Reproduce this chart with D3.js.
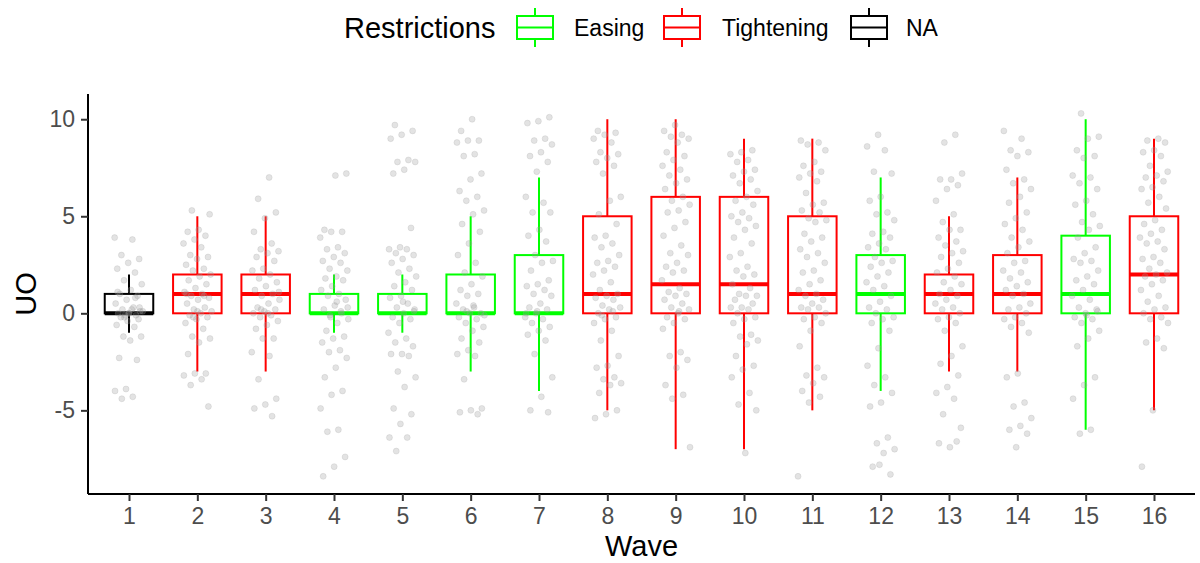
<!DOCTYPE html>
<meta charset="utf-8">
<title>UO by Wave</title>
<style>
body { margin: 0; background: #fff; font-family: 'Liberation Sans', Arial, sans-serif; }
</style>
<body>
<script src="https://d3js.org/d3.v7.min.js"></script>
<script>
// waves and the restriction type of each
var waves = ["1","2","3","4","5","6","7","8","9","10","11","12","13","14","15","16"];
var restriction = ["NA","Tightening","Tightening","Easing","Easing","Easing","Easing","Tightening",
                   "Tightening","Tightening","Tightening","Easing","Tightening","Tightening","Easing","Tightening"];

// box statistics
var whiskerLow  = [-1,-3,-3,-1,-1,-3,-4,-5,-7,-7,-5,-4,-3,-3,-6,-5];
var q1          = [ 0, 0, 0, 0, 0, 0, 0, 0, 0, 0, 0, 0, 0, 0, 0, 0];
var median      = [ 0, 1, 1, 0, 0, 0, 0, 1,1.5,1.5,1, 1, 1, 1, 1, 2];
var q3          = [ 1, 2, 2, 1, 1, 2, 3, 5, 6, 6, 5, 3, 2, 3, 4, 5];
var whiskerHigh = [ 2, 5, 5, 2, 2, 5, 7,10,10, 9, 9, 7, 5, 7,10, 9];

// jittered responses (approximate), one array per wave
var pts1  = [3.9,3.8,3.0,2.8,2.6,2.3,2.1,1.7,1.5,1.2,1.0,0.9,0.7,0.5,0.3,0.2,0.1,0.0,0.0,-0.1,-0.1,0.1,0.2,-0.2,-0.3,-0.4,-0.6,-0.7,-1.2,-1.2,-1.4,-2.3,-2.4,-3.9,-4.0,-4.3,-4.4,0.3,0.0,1.1,0.8,-0.2];
var pts2  = [5.3,5.1,4.3,4.2,4.0,3.8,3.6,3.4,3.0,2.9,2.8,2.5,2.3,2.2,2.0,1.9,1.7,1.5,1.3,1.1,1.0,0.9,0.8,0.7,0.5,0.3,0.2,0.1,0.0,-0.1,-0.2,-0.3,-0.5,-0.8,-1.2,-1.3,-1.5,-2.1,-3.1,-3.1,-3.2,-3.4,-3.7,-4.8,0.1,1.0,0.9,-0.2];
var pts3  = [7.0,5.9,5.2,4.9,4.2,3.6,3.3,3.2,3.1,2.9,2.7,2.3,2.2,2.0,1.8,1.6,1.4,1.2,1.0,0.9,0.7,0.5,0.3,0.2,0.1,0.0,-0.1,-0.2,-0.4,-0.6,-0.8,-1.3,-1.3,-2.0,-2.2,-3.4,-4.4,-4.7,-4.9,-5.3,0.2,1.1,0.0];
var pts4  = [7.2,7.1,4.3,4.2,4.2,3.9,3.4,3.3,3.1,2.9,2.7,2.6,2.3,2.2,1.9,1.8,1.7,1.4,1.2,1.0,0.9,0.7,0.4,0.2,0.0,-0.2,-0.3,-0.5,-0.9,-1.2,-1.3,-1.5,-1.9,-2.0,-2.3,-2.8,-3.3,-4.0,-4.2,-4.9,-6.0,-6.1,-7.4,-7.9,-8.4,0.1,-0.1,0.3,0.6];
var pts5  = [9.7,9.4,9.2,9.0,7.9,7.8,7.8,7.4,7.2,4.4,3.4,3.3,3.3,3.1,3.0,2.8,2.6,2.3,2.1,1.9,1.6,1.4,1.2,0.9,0.8,0.5,0.3,0.2,0.0,-0.2,-0.3,-0.5,-1.0,-1.3,-1.5,-1.7,-2.1,-2.1,-2.2,-3.0,-3.3,-3.8,-4.9,-5.2,-5.7,-6.4,-6.4,-7.1,0.1,0.6];
var pts6  = [10.0,9.4,8.9,8.9,8.8,8.2,8.1,7.2,6.9,6.3,6.0,5.8,5.3,5.1,4.6,4.2,3.6,3.0,2.6,2.1,1.9,1.5,1.2,1.0,0.9,0.5,0.3,0.2,0.0,0.0,-0.2,-0.3,-0.5,-0.7,-0.9,-1.3,-1.5,-1.9,-2.1,-2.2,-3.4,-4.9,-5.0,-5.1,-5.2,0.1,-0.1,0.4];
var pts7  = [10.1,9.9,9.8,9.0,8.9,8.7,8.3,8.1,7.8,7.3,6.0,5.7,5.2,5.2,4.3,4.0,3.7,3.0,2.7,2.6,2.2,1.7,1.5,1.4,1.2,1.0,0.9,0.5,0.3,0.2,0.0,-0.2,-0.3,-0.5,-0.7,-0.9,-1.1,-1.4,-2.1,-3.3,-4.3,-5.0,-5.1,0.1,0.0];
var pts8  = [9.4,9.3,9.2,9.0,8.8,8.3,8.2,8.0,7.8,7.6,7.2,6.0,5.8,5.1,4.6,4.0,3.9,3.6,3.4,3.0,2.7,2.6,2.4,2.2,2.0,1.6,1.2,1.0,0.9,0.8,0.7,0.4,0.3,0.2,0.0,-0.2,-0.3,-0.5,-0.9,-1.4,-2.2,-2.7,-2.8,-3.3,-3.4,-3.6,-3.7,-4.1,-5.0,-5.2,-5.4,0.1,-0.1];
var pts9  = [9.7,9.4,9.2,9.1,9.0,8.8,8.3,8.1,7.9,7.6,7.4,7.1,6.9,6.7,6.4,6.0,5.8,5.6,5.3,5.2,4.7,4.4,4.0,3.5,3.1,3.0,2.6,2.4,2.2,2.1,1.7,1.3,1.1,1.0,0.9,0.7,0.5,0.3,0.2,0.0,-0.2,-0.3,-0.5,-0.8,-2.0,-2.2,-2.4,-2.8,-3.7,-4.2,-4.4,-6.9,0.1];
var pts10 = [8.4,8.3,8.2,7.9,7.8,7.4,7.3,7.1,6.9,6.7,6.3,6.0,5.8,5.6,5.2,5.0,4.9,4.7,4.5,4.3,3.9,3.6,3.1,2.9,2.4,2.2,2.0,1.9,1.5,1.3,1.0,0.9,0.9,0.7,0.5,0.3,0.3,0.2,0.0,-0.2,-0.3,-0.5,-1.1,-1.2,-1.4,-1.6,-2.2,-2.7,-2.9,-3.3,-4.1,-4.7,-5.0,-7.2];
var pts11 = [8.9,8.8,8.7,8.4,7.8,7.6,7.3,7.2,7.0,6.8,6.2,5.7,5.6,5.3,5.2,4.9,4.8,4.7,4.1,3.9,3.7,3.3,3.1,2.9,2.6,2.2,2.1,1.7,1.5,1.2,1.0,0.9,0.7,0.5,0.3,0.3,0.2,0.0,-0.2,-0.3,-0.5,-0.9,-1.7,-2.8,-3.2,-3.3,-3.6,-4.0,-4.3,-4.6,-8.4];
var pts12 = [9.2,8.6,8.4,7.3,7.2,6.0,5.8,5.2,5.1,4.8,4.2,4.1,3.9,3.6,3.4,3.3,2.9,2.7,2.6,2.4,2.1,1.9,1.6,1.4,1.2,0.9,0.6,0.3,0.2,0.0,-0.2,-0.3,-0.5,-0.9,-1.8,-2.7,-3.3,-3.7,-4.1,-4.6,-4.8,-6.4,-6.7,-7.0,-7.2,-7.9,-8.3,-7.8];
var pts13 = [9.2,8.8,7.2,6.9,6.9,6.6,6.4,5.8,5.1,4.7,4.3,4.3,3.9,3.7,3.5,3.2,3.1,2.9,2.6,2.3,2.1,1.9,1.6,1.5,1.2,1.0,0.9,0.7,0.5,0.3,0.2,0.0,-0.2,-0.3,-0.5,-0.9,-1.7,-2.2,-2.6,-3.2,-3.8,-4.1,-4.4,-5.2,-5.9,-6.9,-6.7,-6.6];
var pts14 = [9.4,9.0,8.4,8.3,8.1,7.4,6.9,6.7,6.4,6.0,5.7,5.2,4.9,4.6,4.3,3.9,3.7,3.4,3.1,2.7,2.6,2.2,2.1,1.8,1.6,1.4,1.2,1.0,0.9,0.5,0.3,0.2,0.0,-0.2,-0.3,-0.5,-0.7,-1.0,-3.1,-3.3,-4.6,-4.8,-5.4,-5.8,-6.0,-6.2,-6.9];
var pts15 = [10.3,9.1,9.0,8.4,8.1,8.0,7.1,7.0,6.7,6.4,5.8,5.6,5.1,4.7,4.5,4.3,3.9,3.4,3.1,2.8,2.7,2.6,2.2,1.9,1.7,1.5,1.2,0.9,0.7,0.3,0.2,0.0,-0.2,-0.3,-0.5,-0.9,-1.3,-1.7,-3.3,-3.7,-4.4,-6.0,-6.2,0.1,-0.1];
var pts16 = [9.0,8.9,8.8,8.4,8.3,8.1,7.6,7.3,7.1,7.0,6.8,6.5,6.4,6.0,5.7,5.4,4.8,4.6,4.3,4.1,3.9,3.7,3.6,3.3,2.9,2.8,2.6,2.3,2.1,2.0,1.9,1.7,1.5,1.2,0.9,0.6,0.3,0.2,0.0,-0.2,-0.3,-0.5,-1.3,-1.5,-1.8,-5.0,-7.9];
var points = [pts1,pts2,pts3,pts4,pts5,pts6,pts7,pts8,pts9,pts10,pts11,pts12,pts13,pts14,pts15,pts16];

var yTicks = [-5, 0, 5, 10];
var legendItems = ["Easing", "Tightening", "NA"];

var width = 1200, height = 563;
var margin = {top: 94, right: 5, bottom: 69, left: 88};

var colour = d3.scaleOrdinal()
    .domain(["Easing", "Tightening", "NA"])
    .range(["#00ff00", "#ff0000", "#000000"]);

var svg = d3.select("body").append("svg")
    .attr("width", width)
    .attr("height", height);

var x = d3.scalePoint()
    .domain(waves)
    .range([margin.left, width - margin.right])
    .padding(0.6);
var step = x.step();

var y = d3.scaleLinear()
    .domain([-9.31, 11.3])
    .range([height - margin.bottom, margin.top]);

var boxW = step * 0.71;

// boxes
var gBox = svg.append("g");
waves.forEach(function(w, i) {
    var cx = x(w), c = colour(restriction[i]);
    var g = gBox.append("g").attr("stroke", c).attr("fill", "none");
    g.append("line").attr("x1", cx).attr("x2", cx)
        .attr("y1", y(q3[i])).attr("y2", y(whiskerHigh[i])).attr("stroke-width", 2);
    g.append("line").attr("x1", cx).attr("x2", cx)
        .attr("y1", y(q1[i])).attr("y2", y(whiskerLow[i])).attr("stroke-width", 2);
    g.append("rect").attr("x", cx - boxW / 2).attr("width", boxW)
        .attr("y", y(q3[i])).attr("height", y(q1[i]) - y(q3[i]))
        .attr("fill", "#fff").attr("stroke-width", 2);
    g.append("line").attr("x1", cx - boxW / 2).attr("x2", cx + boxW / 2)
        .attr("y1", y(median[i])).attr("y2", y(median[i])).attr("stroke-width", 4);
});

// jittered points (deterministic horizontal spread)
var gPts = svg.append("g");
points.forEach(function(arr, i) {
    gPts.selectAll(null)
        .data(arr)
        .enter().append("circle")
        .attr("cx", function(d, j) {
            var f = (j * 0.618034 + i * 0.31) % 1;
            return x(waves[i]) + (f - 0.5) * 2 * 0.21 * step;
        })
        .attr("cy", function(d) { return y(d); })
        .attr("r", 3)
        .attr("fill", "#9a9a9a")
        .attr("fill-opacity", 0.28)
        .attr("stroke", "#9a9a9a")
        .attr("stroke-opacity", 0.25)
        .attr("stroke-width", 0.8);
});

// axes
var xAxis = svg.append("g")
    .attr("transform", "translate(0," + (height - margin.bottom) + ")")
    .call(d3.axisBottom(x).tickSizeOuter(0).tickSize(7).tickPadding(7));
var yAxis = svg.append("g")
    .attr("transform", "translate(" + margin.left + ",0)")
    .call(d3.axisLeft(y).tickValues(yTicks).tickFormat(function(d) { return String(d); })
        .tickSizeOuter(0).tickSize(7).tickPadding(6));

[xAxis, yAxis].forEach(function(a) {
    a.select(".domain").attr("stroke", "#000").attr("stroke-width", 2);
    a.selectAll(".tick line").attr("stroke", "#333").attr("stroke-width", 2);
    a.selectAll(".tick text")
        .attr("fill", "#4d4d4d")
        .attr("font-size", 23)
        .attr("font-family", "'Liberation Sans', Arial, sans-serif");
});
xAxis.select(".domain").attr("d", "M" + margin.left + ",0H" + (width - margin.right));
yAxis.select(".domain").attr("d", "M0," + (height - margin.bottom) + "V" + margin.top);

// axis titles
svg.append("text")
    .attr("x", (margin.left + width - margin.right) / 2)
    .attr("y", 556)
    .attr("text-anchor", "middle")
    .attr("font-size", 29)
    .text("Wave");
svg.append("text")
    .attr("transform", "translate(36," + ((margin.top + height - margin.bottom) / 2) + ")rotate(-90)")
    .attr("text-anchor", "middle")
    .attr("font-size", 29)
    .text("UO");

// legend
var legend = svg.append("g");
legend.append("text")
    .attr("x", 344).attr("y", 38)
    .attr("font-size", 29)
    .text("Restrictions");
var keyX = [517, 664, 851];
var labelX = [574, 722, 906];
legendItems.forEach(function(name, i) {
    var c = colour(name), kx = keyX[i];
    var k = legend.append("g").attr("stroke", c).attr("fill", "none").attr("stroke-width", 2);
    k.append("line").attr("x1", kx + 18).attr("x2", kx + 18).attr("y1", 8).attr("y2", 47);
    k.append("rect").attr("x", kx).attr("y", 16).attr("width", 36).attr("height", 23).attr("fill", "#fff");
    k.append("line").attr("x1", kx).attr("x2", kx + 36).attr("y1", 27.5).attr("y2", 27.5);
    legend.append("text")
        .attr("x", labelX[i]).attr("y", 36)
        .attr("font-size", 23)
        .text(name);
});
</script>
</body>
</html>
